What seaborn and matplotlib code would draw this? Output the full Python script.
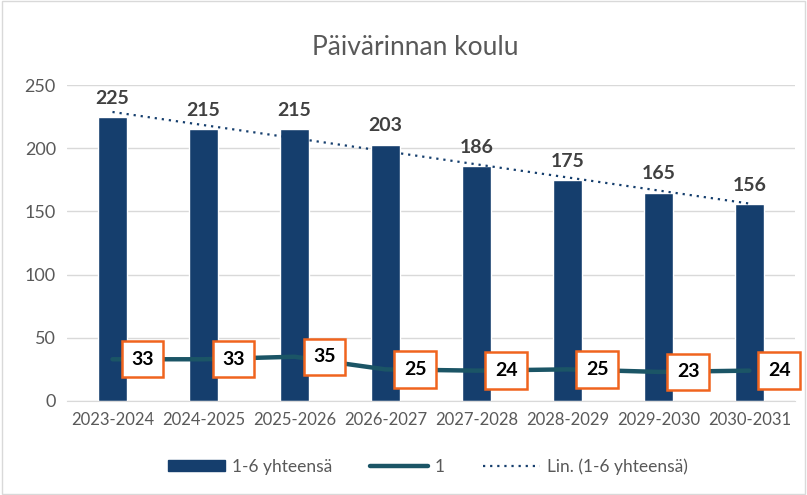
import numpy as np
import pandas as pd
import seaborn as sns
import matplotlib.pyplot as plt
from matplotlib.patches import Rectangle

# ======================
# Data
# ======================
years = ["2023-2024", "2024-2025", "2025-2026", "2026-2027",
         "2027-2028", "2028-2029", "2029-2030", "2030-2031"]
total_1_6 = [225, 215, 215, 203, 186, 175, 165, 156]
grade_1 = [33, 33, 35, 25, 24, 25, 23, 24]

BAR_COLOR = "#153e6d"
LINE_COLOR = "#1b5566"
BOX_EDGE = "#f0641e"
TEXT_GRAY = "#595959"

df = pd.DataFrame({"year": years, "total": total_1_6, "g1": grade_1})

sns.set_style("white")
plt.rcParams["font.family"] = ["Lato", "DejaVu Sans"]

fig = plt.figure(figsize=(8.07, 4.95), dpi=100)
ax = fig.add_axes([0.083, 0.19, 0.902, 0.638])

sns.barplot(data=df, x="year", y="total", color=BAR_COLOR, width=0.31,
            saturation=1, ax=ax, zorder=2)

x = np.arange(len(years))
ax.plot(x, df["g1"], color=LINE_COLOR, lw=3.2, solid_capstyle="round", zorder=3)

# linear trend (Excel "Lin.")
slope, icpt = np.polyfit(x, df["total"], 1)
ax.plot(x, slope * x + icpt, color=BAR_COLOR, lw=1.6, linestyle=(0, (1, 2.2)), zorder=4)

# labels
for xi, v in zip(x, df["total"]):
    ax.text(xi, v + 8, str(v), ha="center", va="bottom", fontsize=14,
            fontweight="bold", color="#404040", zorder=5)
for xi, v in zip(x, df["g1"]):
    ax.text(xi + 0.33, v, str(v), ha="center", va="center", fontsize=14,
            fontweight="bold", color="black", zorder=6,
            bbox=dict(boxstyle="square,pad=0.5", fc="white", ec=BOX_EDGE, lw=1.8))

ax.set_ylim(0, 250)
ax.set_xlim(-0.5, len(years) - 0.5)
ax.set_yticks(range(0, 251, 50))
ax.yaxis.grid(True, color="#d9d9d9", lw=1, zorder=0)
ax.set_axisbelow(True)
for side in ["left", "right", "top"]:
    ax.spines[side].set_visible(False)
ax.spines["bottom"].set_color("#d9d9d9")
ax.tick_params(axis="x", length=0, labelsize=12, labelcolor=TEXT_GRAY, pad=8)
ax.tick_params(axis="y", length=0, labelsize=13, labelcolor=TEXT_GRAY, pad=8)
ax.set_xlabel("")
ax.set_ylabel("")

fig.text(0.515, 0.905, "Päivärinnan koulu", ha="center", va="center",
         fontsize=19, color=TEXT_GRAY)

# legend
handles = [
    Rectangle((0, 0), 1, 1, color=BAR_COLOR),
    plt.Line2D([], [], color=LINE_COLOR, lw=3.2, solid_capstyle="round"),
    plt.Line2D([], [], color=BAR_COLOR, lw=1.6, linestyle=(0, (1, 2.2))),
]
labels = ["1-6 yhteensä", "1", "Lin. (1-6 yhteensä)"]
fig.legend(handles, labels, loc="center", bbox_to_anchor=(0.53, 0.057), ncol=3,
           frameon=False, fontsize=12.5, labelcolor=TEXT_GRAY, handlelength=3.3,
           handleheight=0.6, columnspacing=2.2, handletextpad=0.4)

# chart border
fig.patches.append(Rectangle((0.003, 0.003), 0.994, 0.994, transform=fig.transFigure,
                             fill=False, ec="#d9d9d9", lw=1))

plt.savefig("out.png", dpi=100)
plt.close()
